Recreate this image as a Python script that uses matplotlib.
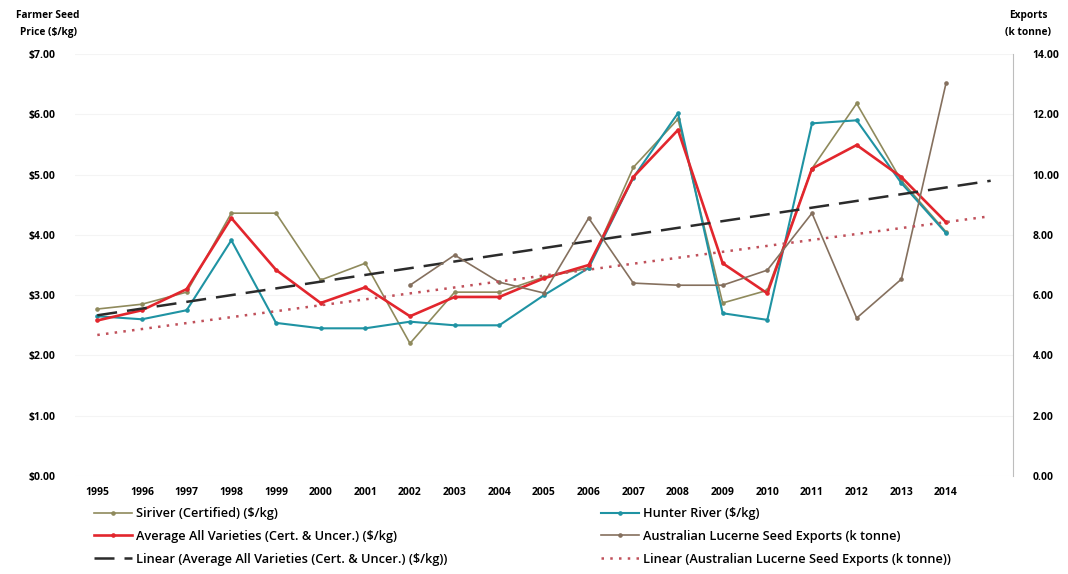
import numpy as np
import matplotlib.pyplot as plt

plt.rcParams['font.family'] = ['Open Sans', 'DejaVu Sans']

years = list(range(1995, 2015))

siriver = [2.77, 2.85, 3.05, 4.36, 4.36, 3.25, 3.53, 2.20, 3.05, 3.05,
           3.30, 3.45, 5.12, 5.92, 2.87, 3.08, 5.10, 6.18, 4.90, 4.05]
hunter = [2.65, 2.60, 2.75, 3.91, 2.54, 2.45, 2.45, 2.56, 2.50, 2.50,
          3.00, 3.45, 4.95, 6.02, 2.70, 2.59, 5.85, 5.90, 4.86, 4.03]
average = [2.58, 2.75, 3.10, 4.28, 3.42, 2.87, 3.13, 2.65, 2.97, 2.97,
           3.28, 3.50, 4.96, 5.74, 3.53, 3.03, 5.10, 5.49, 4.96, 4.21]

# exports only recorded from 2002
export_years = list(range(2002, 2015))
exports = [6.33, 7.33, 6.43, 6.07, 8.56, 6.40, 6.33, 6.33, 6.83, 8.72,
           5.24, 6.53, 13.03]

price_ticks = [0, 1, 2, 3, 4, 5, 6, 7]
export_ticks = [0, 2, 4, 6, 8, 10, 12, 14]

fig = plt.figure(figsize=(10.68, 5.74), dpi=100)
ax = fig.add_axes([0.0702, 0.1707, 0.8783, 0.7352])
ax2 = ax.twinx()

c_sir = '#8f8a5c'
c_hun = '#1f93a3'
c_avg = '#e2262d'
c_exp = '#85705e'

l1, = ax.plot(years, siriver, color=c_sir, lw=1.2, marker='o', ms=2.3,
              label='Siriver (Certified) ($/kg)')
l2, = ax.plot(years, hunter, color=c_hun, lw=1.5, marker='o', ms=2.3,
              label='Hunter River ($/kg)')
l3, = ax.plot(years, average, color=c_avg, lw=1.9, marker='o', ms=2.3,
              label='Average All Varieties (Cert. & Uncer.) ($/kg)')
l4, = ax2.plot(export_years, exports, color=c_exp, lw=1.2, marker='o', ms=2.3,
               label='Australian Lucerne Seed Exports (k tonne)')

# linear trends, extended one year forward
trend_x = np.arange(1995, 2016)
p_avg = np.polyfit(years, average, 1)
l5, = ax.plot(trend_x, np.polyval(p_avg, trend_x), color='#2b2b2b', lw=1.8,
              dashes=(8, 4),
              label='Linear (Average All Varieties (Cert. & Uncer.) ($/kg))')
p_exp = np.polyfit(export_years, exports, 1)
l6, = ax2.plot(trend_x, np.polyval(p_exp, trend_x), color='#c0505a', lw=1.8,
               linestyle=(0, (1, 2.5)),
               label='Linear (Australian Lucerne Seed Exports (k tonne))')

ax.set_xlim(1994.5, 2015.5)
ax.set_ylim(0, 7)
ax2.set_ylim(0, 14)
ax.set_xticks(years)
ax.set_xticklabels([str(y) for y in years])
ax.set_yticks(price_ticks)
ax.set_yticklabels(['$%.2f' % v for v in price_ticks])
ax2.set_yticks(export_ticks)
ax2.set_yticklabels(['%.2f' % v for v in export_ticks])
for lab in ax.get_xticklabels() + ax.get_yticklabels() + ax2.get_yticklabels():
    lab.set_fontsize(7.5)
    lab.set_fontweight('bold')

ax.grid(axis='y', color='#f4f4f4', lw=0.8)
ax.set_axisbelow(True)
for s in ['left', 'top', 'bottom', 'right']:
    ax.spines[s].set_visible(False)
for s in ['left', 'top', 'bottom']:
    ax2.spines[s].set_visible(False)
ax2.spines['right'].set_color('#bdbdbd')
ax.tick_params(length=0, pad=14, axis='y')
ax.tick_params(length=0, pad=8, axis='x')
ax2.tick_params(length=0, pad=14)

fig.text(0.045, 0.958, 'Farmer Seed\nPrice ($/kg)', ha='center', va='center',
         fontsize=7.3, fontweight='bold', linespacing=1.7)
fig.text(0.963, 0.958, 'Exports\n(k tonne)', ha='center', va='center',
         fontsize=7.3, fontweight='bold', linespacing=1.7)

fig.legend(handles=[l1, l3, l5, l2, l4, l6], ncol=2, loc='upper left',
           bbox_to_anchor=(0.083, 0.125), frameon=False,
           prop={'size': 9.2, 'weight': 'semibold'},
           handlelength=3.0, columnspacing=12, labelspacing=0.75,
           borderaxespad=0, handletextpad=0.3)

fig.savefig('out.png', dpi=100)
